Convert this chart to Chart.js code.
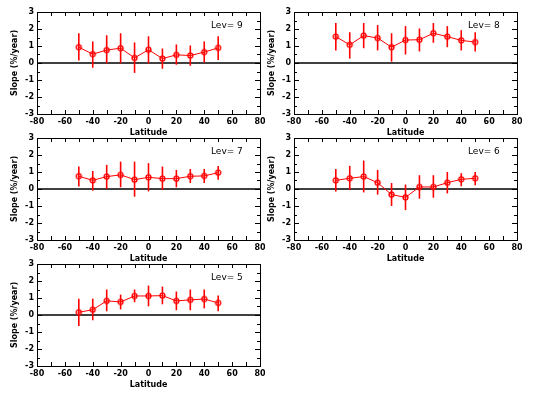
<!DOCTYPE html>
<html>
<head>
<meta charset="utf-8">
<script src="https://cdn.jsdelivr.net/npm/chart.js@4/dist/chart.umd.min.js"></script>
<style>
  body { margin: 0; background: #fff; }
  #wrap { position: relative; width: 540px; height: 397px; background: #fff; overflow: hidden; }
  #wrap canvas { position: absolute; }
</style>
</head>
<body>
<div id="wrap"></div>
<script>
// latitude bins
const lat = [-50, -40, -30, -20, -10, 0, 10, 20, 30, 40, 50];

// axis ticks
const xTickValues = [-80, -60, -40, -20, 0, 20, 40, 60, 80];
const yTickValues = [-3, -2, -1, 0, 1, 2, 3];

// slope (%/year) and error bar ends, one set per level
const slope9 = [0.93, 0.52, 0.76, 0.87, 0.30, 0.78, 0.26, 0.48, 0.44, 0.64, 0.89];
const low9   = [0.14, -0.28, -0.02, -0.02, -0.58, -0.02, -0.34, -0.10, -0.16, 0.02, 0.18];
const high9  = [1.75, 1.27, 1.63, 1.75, 1.21, 1.57, 0.85, 1.09, 1.03, 1.27, 1.57];

const slope8 = [1.55, 1.07, 1.61, 1.47, 0.93, 1.35, 1.37, 1.75, 1.55, 1.33, 1.23];
const low8   = [0.74, 0.26, 0.87, 0.74, 0.08, 0.50, 0.68, 1.19, 0.93, 0.74, 0.68];
const high8  = [2.35, 1.81, 2.35, 2.23, 1.75, 2.17, 2.03, 2.35, 2.17, 1.93, 1.81];

const slope7 = [0.75, 0.51, 0.73, 0.83, 0.55, 0.69, 0.61, 0.61, 0.75, 0.77, 0.96];
const low7   = [0.14, -0.10, 0.00, 0.10, -0.45, -0.14, -0.06, 0.10, 0.35, 0.35, 0.55];
const high7  = [1.32, 1.06, 1.42, 1.61, 1.61, 1.52, 1.32, 1.12, 1.18, 1.18, 1.36];

const slope6 = [0.51, 0.63, 0.73, 0.37, -0.33, -0.49, 0.12, 0.12, 0.37, 0.57, 0.63];
const low6   = [-0.14, -0.06, -0.20, -0.33, -1.00, -1.24, -0.57, -0.51, -0.26, 0.16, 0.22];
const high6  = [1.18, 1.36, 1.67, 1.12, 0.35, 0.26, 0.81, 0.81, 1.00, 0.93, 1.00];

const slope5 = [0.16, 0.31, 0.83, 0.77, 1.12, 1.12, 1.14, 0.83, 0.89, 0.94, 0.71];
const low5   = [-0.65, -0.31, 0.22, 0.33, 0.75, 0.51, 0.63, 0.28, 0.28, 0.39, 0.22];
const high5  = [0.96, 0.96, 1.50, 1.20, 1.50, 1.73, 1.67, 1.38, 1.50, 1.50, 1.14];

const panels = [
  { label: 'Lev= 9', slope: slope9, low: low9, high: high9, left: 0,   top: 0 },
  { label: 'Lev= 8', slope: slope8, low: low8, high: high8, left: 257, top: 0 },
  { label: 'Lev= 7', slope: slope7, low: low7, high: high7, left: 0,   top: 126 },
  { label: 'Lev= 6', slope: slope6, low: low6, high: high6, left: 257, top: 126 },
  { label: 'Lev= 5', slope: slope5, low: low5, high: high5, left: 0,   top: 252 }
];

const RED = '#ff0000';
Chart.defaults.font.family = '"DejaVu Sans", sans-serif';
Chart.defaults.color = '#000';

// marker: open square with an open circle on top
const marker = document.createElement('canvas');
marker.width = 9; marker.height = 9;
(function () {
  const m = marker.getContext('2d');
  m.strokeStyle = RED; m.lineWidth = 1;
  m.strokeRect(2.5, 2.5, 4, 4);
  m.beginPath(); m.arc(4.5, 4.5, 2.8, 0, Math.PI * 2); m.stroke();
})();

// frame, inward ticks, zero line, error bars, level label
const framePlugin = {
  id: 'frame',
  beforeDatasetsDraw(chart, args, opts) {
    const { ctx, chartArea: a, scales: { x, y } } = chart;
    ctx.save();
    ctx.strokeStyle = '#000';
    ctx.lineWidth = 1;
    const seg = (x1, y1, x2, y2) => { ctx.beginPath(); ctx.moveTo(x1, y1); ctx.lineTo(x2, y2); ctx.stroke(); };

    for (let v = x.min; v <= x.max; v += 10) {
      const px = Math.round(x.getPixelForValue(v)) + 0.5;
      seg(px, a.bottom, px, a.bottom - 4);
      seg(px, a.top, px, a.top + 4);
    }
    for (let v = y.min; v <= y.max; v += 0.5) {
      const py = Math.round(y.getPixelForValue(v)) + 0.5;
      const len = Number.isInteger(v) ? 5 : 3;
      seg(a.left, py, a.left + len, py);
      seg(a.right, py, a.right - len, py);
    }
    ctx.strokeRect(Math.round(a.left) + 0.5, Math.round(a.top) + 0.5,
                   Math.round(a.width), Math.round(a.height));

    // zero line
    ctx.lineWidth = 1.5;
    const zy = y.getPixelForValue(0);
    seg(a.left, zy, a.right, zy);

    // error bars
    const ds = chart.data.datasets[0];
    ctx.strokeStyle = RED;
    ctx.lineWidth = 1.6;
    ds.data.forEach((p, i) => {
      const px = x.getPixelForValue(p.x);
      seg(px, y.getPixelForValue(ds.low[i]), px, y.getPixelForValue(ds.high[i]));
    });

    // level label
    ctx.fillStyle = '#000';
    ctx.font = '9px "DejaVu Sans", sans-serif';
    ctx.textBaseline = 'middle';
    ctx.textAlign = 'left';
    ctx.fillText(opts.label, a.right - 49, a.top + 14);
    ctx.restore();
  }
};

const wrap = document.getElementById('wrap');
panels.forEach(p => {
  const cv = document.createElement('canvas');
  cv.width = 265; cv.height = 140;
  cv.style.left = p.left + 'px';
  cv.style.top = p.top + 'px';
  cv.style.width = '265px'; cv.style.height = '140px';
  wrap.appendChild(cv);

  new Chart(cv, {
    type: 'line',
    data: {
      datasets: [{
        data: lat.map((v, i) => ({ x: v, y: p.slope[i] })),
        low: p.low,
        high: p.high,
        borderColor: RED,
        borderWidth: 1,
        pointStyle: marker,
        pointRadius: 4,
        tension: 0
      }]
    },
    options: {
      responsive: false,
      devicePixelRatio: 1,
      animation: false,
      layout: { padding: { left: 0, right: 2.5, top: 12, bottom: 0 } },
      plugins: {
        legend: { display: false },
        tooltip: { enabled: false },
        frame: { label: p.label }
      },
      scales: {
        x: {
          type: 'linear',
          min: -80, max: 80,
          afterBuildTicks: s => { s.ticks = xTickValues.map(v => ({ value: v })); },
          afterFit: s => { s.height = 26; s.paddingLeft = 0; s.paddingRight = 0; },
          grid: { display: false, drawTicks: false },
          border: { display: false },
          ticks: { padding: 3, font: { size: 8, weight: 'bold' }, maxRotation: 0, autoSkip: false },
          title: { display: true, text: 'Latitude', font: { size: 8, weight: 'bold' }, padding: { top: 0, bottom: 2 } }
        },
        y: {
          type: 'linear',
          min: -3, max: 3,
          afterBuildTicks: s => { s.ticks = yTickValues.map(v => ({ value: v })); },
          afterFit: s => { s.width = 37; s.paddingTop = 0; s.paddingBottom = 0; },
          grid: { display: false, drawTicks: false },
          border: { display: false },
          ticks: { padding: 3, font: { size: 8, weight: 'bold' }, autoSkip: false },
          title: { display: true, text: 'Slope (%/year)', font: { size: 8, weight: 'bold' }, padding: { top: 10, bottom: 0 } }
        }
      }
    },
    plugins: [framePlugin]
  });
});
</script>
</body>
</html>
